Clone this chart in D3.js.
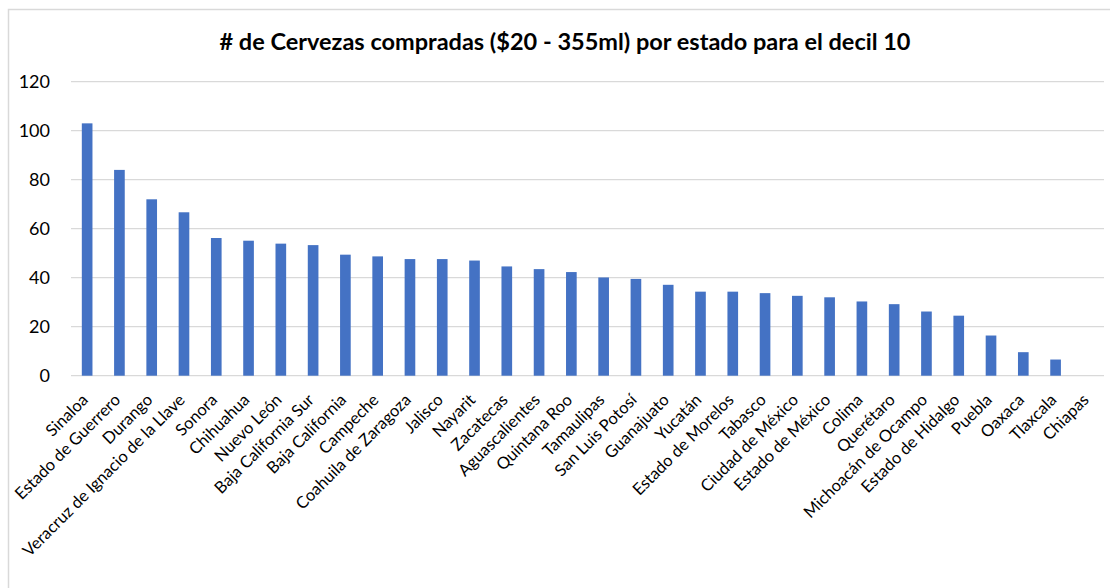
<!DOCTYPE html>
<meta charset="utf-8">
<style>
body { margin: 0; background: #fff; }
text { font-family: Lato, "Open Sans", sans-serif; fill: #000; }
.title { font-size: 23.5px; font-weight: bold; text-anchor: middle; }
.ytick { font-size: 18px; text-anchor: end; }
.xlab { font-size: 16.5px; text-anchor: end; }
.grid line { stroke: #d9d9d9; stroke-width: 1.3px; }
</style>
<svg width="1110" height="588"></svg>
<script src="https://d3js.org/d3.v7.min.js"></script>
<script>

var estados = ["Sinaloa", "Estado de Guerrero", "Durango", "Veracruz de Ignacio de la Llave",
  "Sonora", "Chihuahua", "Nuevo León", "Baja California Sur", "Baja California", "Campeche",
  "Coahuila de Zaragoza", "Jalisco", "Nayarit", "Zacatecas", "Aguascalientes", "Quintana Roo",
  "Tamaulipas", "San Luis Potosí", "Guanajuato", "Yucatán", "Estado de Morelos", "Tabasco",
  "Ciudad de México", "Estado de México", "Colima", "Querétaro", "Michoacán de Ocampo",
  "Estado de Hidalgo", "Puebla", "Oaxaca", "Tlaxcala", "Chiapas"];

var cervezas = [103, 84, 72, 66.7, 56.2, 55.1, 53.9, 53.3, 49.4, 48.7,
  47.6, 47.6, 47, 44.6, 43.5, 42.3, 40.1, 39.5, 37.1, 34.3, 34.3, 33.7,
  32.6, 32, 30.3, 29.2, 26.2, 24.5, 16.4, 9.6, 6.6, 0];

var yTicks = [0, 20, 40, 60, 80, 100, 120];

var titulo = "# de Cervezas compradas ($20 - 355ml) por estado para el decil 10";

var svg = d3.select("svg");

// marco del gráfico
svg.append("rect")
    .attr("x", 8.5).attr("y", 9.5)
    .attr("width", 1120).attr("height", 600)
    .attr("fill", "none")
    .attr("stroke", "#d9d9d9")
    .attr("stroke-width", 1.5);

var x = d3.scaleBand()
    .domain(estados)
    .range([71, 1104])
    .paddingInner(0.67)
    .paddingOuter(0.335);

var y = d3.scaleLinear()
    .domain([0, 120])
    .range([375.7, 81.7]);

svg.append("text")
    .attr("class", "title")
    .attr("x", 565)
    .attr("y", 50)
    .text(titulo);

// lineas de cuadricula
svg.append("g")
    .attr("class", "grid")
  .selectAll("line")
  .data(yTicks)
  .enter().append("line")
    .attr("x1", 71)
    .attr("x2", 1104)
    .attr("y1", function(d) { return y(d); })
    .attr("y2", function(d) { return y(d); });

svg.append("g")
  .selectAll("text")
  .data(yTicks)
  .enter().append("text")
    .attr("class", "ytick")
    .attr("x", 50)
    .attr("y", function(d) { return y(d) + 6; })
    .text(function(d) { return d; });

svg.append("g")
  .selectAll("rect")
  .data(cervezas)
  .enter().append("rect")
    .attr("x", function(d, i) { return x(estados[i]); })
    .attr("width", x.bandwidth())
    .attr("y", function(d) { return y(d); })
    .attr("height", function(d) { return y(0) - y(d); })
    .attr("fill", "#4472c4");

svg.append("g")
  .selectAll("text")
  .data(estados)
  .enter().append("text")
    .attr("class", "xlab")
    .attr("transform", function(d) {
      var cx = x(d) + x.bandwidth() / 2 + 2;
      return "translate(" + cx + "," + 401 + ") rotate(-45)";
    })
    .text(function(d) { return d; });

</script>
